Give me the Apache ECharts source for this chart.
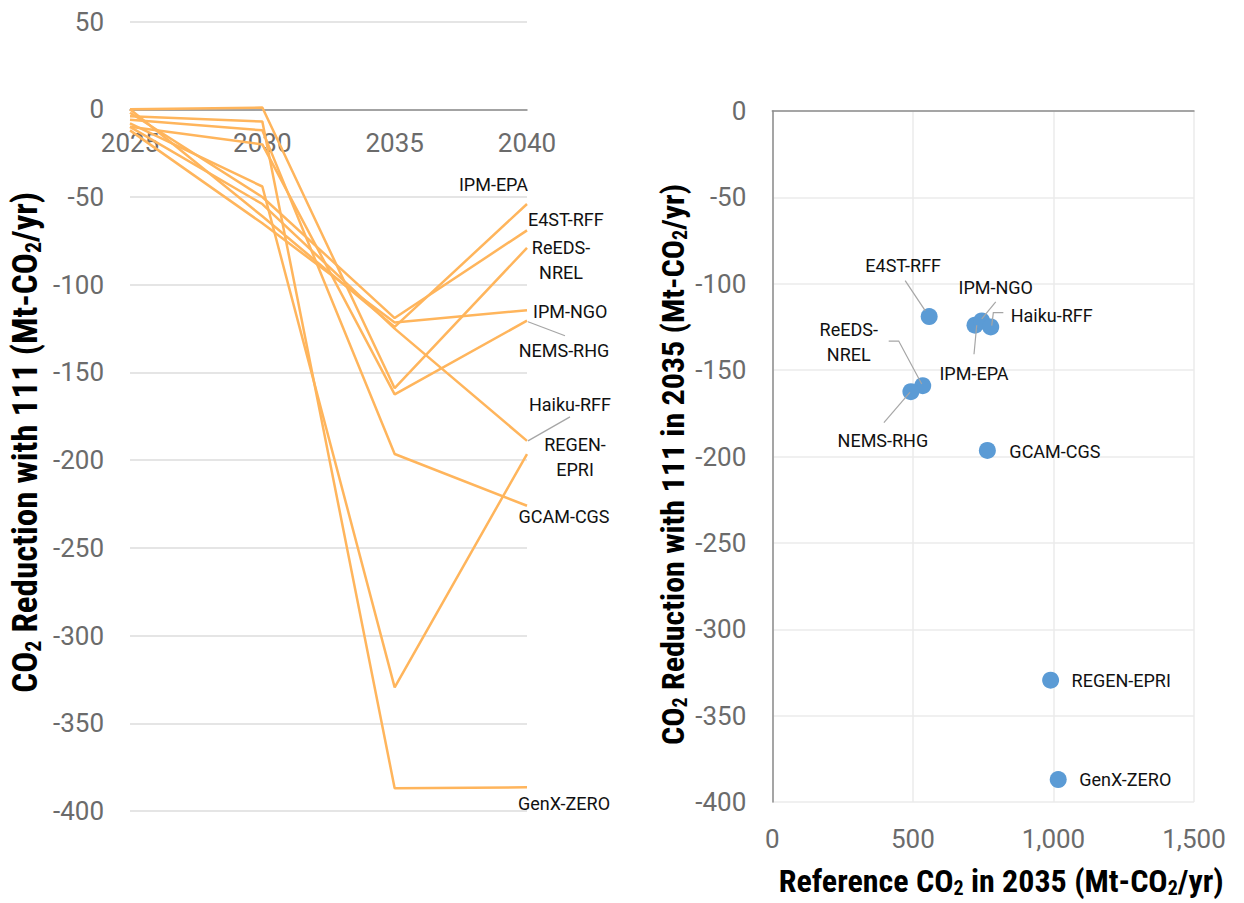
<!DOCTYPE html>
<html><head><meta charset="utf-8">
<script src="https://cdn.jsdelivr.net/npm/echarts@6/dist/echarts.min.js"></script>
<style>html,body{margin:0;padding:0;background:#fff}#c{width:1244px;height:903px}</style>
</head><body><div id="c"></div>
<script>
// ---- data ----
const years = ['2025', '2030', '2035', '2040'];
const models = ['IPM-EPA', 'E4ST-RFF', 'ReEDS-NREL', 'IPM-NGO', 'NEMS-RHG', 'Haiku-RFF', 'REGEN-EPRI', 'GCAM-CGS', 'GenX-ZERO'];
const v2025 = [0, -2, 0, -12, -10, -10, -8, -6, -4];
const v2030 = [-61, -50, 1, -65, -20, -54, -44, -12, -7];
const v2035 = [-124, -119, -159, -121.5, -162.5, -125, -329.5, -196.5, -387];
const v2040 = [-54, -69, -79, -114.5, -120.5, -189, -196.5, -226, -386.5];
const ref2035 = [721, 558, 535, 745, 493, 777, 990, 765, 1017];
const leftTicks = { min: -400, max: 50, step: 50 };
const rightYTicks = { min: -400, max: 0, step: 50 };
const rightXTicks = { min: 0, max: 1500, step: 500 };

// ---- styles / label layout (offsets in px from each mark) ----
const LINE_COLOR = '#FFB55C';
const DOT_COLOR = '#5B9BD5';
const TICK = { color: '#6b6b6b', fontSize: 26, fontFamily: 'Roboto' };
const LABEL_FONT = '18px Roboto';
const TITLE_FONT = "'Roboto Condensed', Roboto";
const leftLab = {
  'IPM-EPA':    { dx: 1,  dy: -20, align: 'right' },
  'E4ST-RFF':   { dx: 1,  dy: -11, align: 'left' },
  'ReEDS-NREL': { dx: 34, dy: 12, align: 'center', wrap: true },
  'IPM-NGO':    { dx: 6,  dy: 1,  align: 'left' },
  'NEMS-RHG':   { dx: 37, dy: 30, align: 'center', leader: [[1, 1], [38, 15]] },
  'Haiku-RFF':  { dx: 43, dy: -36, align: 'center', leader: [[1, 0], [43, -24]] },
  'REGEN-EPRI': { dx: 48, dy: 2.5, align: 'center', wrap: true },
  'GCAM-CGS':   { dx: 37, dy: 11, align: 'center' },
  'GenX-ZERO':  { dx: 37, dy: 16, align: 'center' }
};
const rightLab = {
  'IPM-EPA':    { dx: -1,  dy: 48, align: 'center', leader: [[-1, 29], [1.7, 0]] },
  'E4ST-RFF':   { dx: -26, dy: -51, align: 'center', leader: [[-24, -36], [-4, -6]] },
  'ReEDS-NREL': { dx: -74, dy: -44, align: 'center', wrap: true, leader: [[-34, -44.6], [-24, -44.6], [-1, -1.6]] },
  'IPM-NGO':    { dx: 14,  dy: -33, align: 'center', leader: [[14, -19], [0, -2]] },
  'NEMS-RHG':   { dx: -28, dy: 49, align: 'center', leader: [[-27, 31], [-1, 0.6]] },
  'Haiku-RFF':  { dx: 20,  dy: -11.6, align: 'left', leader: [[12.6, -14.3], [2.6, -14.3], [1, -1.3]] },
  'REGEN-EPRI': { dx: 21,  dy: 0, align: 'left' },
  'GCAM-CGS':   { dx: 22,  dy: 1, align: 'left' },
  'GenX-ZERO':  { dx: 21,  dy: 0, align: 'left' }
};

function titleRich(size) {
  return {
    b: { fontFamily: TITLE_FONT, fontWeight: 'bold', fontSize: size, color: '#000', lineHeight: size + 2 },
    s: { fontFamily: TITLE_FONT, fontWeight: 'bold', fontSize: Math.round(size * 0.62), color: '#000',
         lineHeight: Math.round(size * 0.68), verticalAlign: 'bottom' }
  };
}

const chart = echarts.init(document.getElementById('c'), null, { renderer: 'svg' });

const lineSeries = models.map((m, i) => ({
  type: 'line', name: m, xAxisIndex: 0, yAxisIndex: 0,
  data: [v2025[i], v2030[i], v2035[i], v2040[i]],
  symbol: 'none', lineStyle: { color: LINE_COLOR, width: 2.5 }, itemStyle: { color: LINE_COLOR },
  silent: true, animation: false, z: 3
}));

chart.setOption({
  animation: false,
  grid: [
    { left: 130, right: 717, top: 21.6, bottom: 92 },
    { left: 772.3, right: 50, top: 111, bottom: 97.3 }
  ],
  xAxis: [
    { type: 'category', gridIndex: 0, data: years, boundaryGap: false, position: 'top', offset: 0,
      axisLine: { onZero: false, lineStyle: { color: '#8c8c8c', width: 1.5 } },
      axisTick: { show: false }, axisLabel: Object.assign({ margin: 21, inside: true }, TICK), splitLine: { show: false } },
    { type: 'value', gridIndex: 1, min: rightXTicks.min, max: rightXTicks.max, interval: rightXTicks.step,
      axisLine: { show: false, onZero: false }, axisTick: { show: false },
      axisLabel: Object.assign({ margin: 24, formatter: v => v.toLocaleString('en-US') }, TICK),
      splitLine: { show: true, lineStyle: { color: '#ebebeb', width: 1.5 } },
      name: '{b|Reference CO}{s|2}{b| in 2035 (Mt-CO}{s|2}{b|/yr)}', nameLocation: 'middle', nameGap: 62,
      nameTextStyle: { rich: titleRich(32), lineHeight: 40, padding: [0, 0, 0, 36] } },
    { type: 'value', gridIndex: 1, position: 'top', min: rightXTicks.min, max: rightXTicks.max, interval: rightXTicks.step,
      axisLine: { show: true, onZero: false, lineStyle: { color: '#8c8c8c', width: 1.5 } },
      axisTick: { show: false }, axisLabel: { show: false }, splitLine: { show: false } }
  ],
  yAxis: [
    { type: 'value', gridIndex: 0, min: leftTicks.min, max: leftTicks.max, interval: leftTicks.step,
      axisLine: { show: false }, axisTick: { show: false }, axisLabel: Object.assign({ margin: 26 }, TICK),
      splitLine: { show: true, lineStyle: { color: '#dcdcdc', width: 1.5 } },
      name: '{b|CO}{s|2}{b| Reduction with 111 (Mt-CO}{s|2}{b|/yr)}', nameLocation: 'middle', nameRotate: 90, nameGap: 86,
      nameTextStyle: { rich: titleRich(35), lineHeight: 42, padding: [0, 52, 0, 0] } },
    { type: 'value', gridIndex: 1, min: rightYTicks.min, max: rightYTicks.max, interval: rightYTicks.step,
      axisLine: { show: true, onZero: false, lineStyle: { color: '#8c8c8c', width: 1.5 } },
      axisTick: { show: false }, axisLabel: Object.assign({ margin: 26 }, TICK),
      splitLine: { show: true, lineStyle: { color: '#ebebeb', width: 1.5 } },
      name: '{b|CO}{s|2}{b| Reduction with 111 in 2035 (Mt-CO}{s|2}{b|/yr)}', nameLocation: 'middle', nameRotate: 90, nameGap: 82,
      nameTextStyle: { rich: titleRich(32), lineHeight: 40, padding: [0, 16, 0, 0] } }
  ],
  series: lineSeries.concat([{
    type: 'scatter', xAxisIndex: 1, yAxisIndex: 1, symbolSize: 17,
    itemStyle: { color: DOT_COLOR, opacity: 1 },
    data: models.map((m, i) => ({ name: m, value: [ref2035[i], v2035[i]] })),
    z: 4
  }])
});

// move the left category axis onto the y = 0 line (using the library's own scale)
const gridTop = chart.convertToPixel({ yAxisIndex: 0 }, leftTicks.max);
const zeroY = chart.convertToPixel({ yAxisIndex: 0 }, 0);
chart.setOption({ xAxis: [{ offset: -(zeroY - gridTop) }] });

// labels & leader lines, positioned from the library's own scales
const graphics = [];
function addLabel(px, cfg, text, zbase) {
  const t = cfg.wrap ? text.replace('-', '-\n') : text;
  graphics.push({ type: 'text', x: px[0] + cfg.dx, y: px[1] + cfg.dy, z: zbase + 1,
    style: { text: t, font: LABEL_FONT, fill: '#111', align: cfg.align, verticalAlign: 'middle', lineHeight: 25 } });
  if (cfg.leader) {
    graphics.push({ type: 'polyline', z: zbase, shape: { points: cfg.leader.map(p => [px[0] + p[0], px[1] + p[1]]) },
      style: { stroke: '#a6a6a6', lineWidth: 1.2, fill: null } });
  }
}
models.forEach((m, i) => {
  const pL = chart.convertToPixel({ xAxisIndex: 0, yAxisIndex: 0 }, [3, v2040[i]]);
  addLabel(pL, leftLab[m], m, 10);
  const pR = chart.convertToPixel({ xAxisIndex: 1, yAxisIndex: 1 }, [ref2035[i], v2035[i]]);
  addLabel(pR, rightLab[m], m, 10);
});
chart.setOption({ graphic: graphics });
</script></body></html>
